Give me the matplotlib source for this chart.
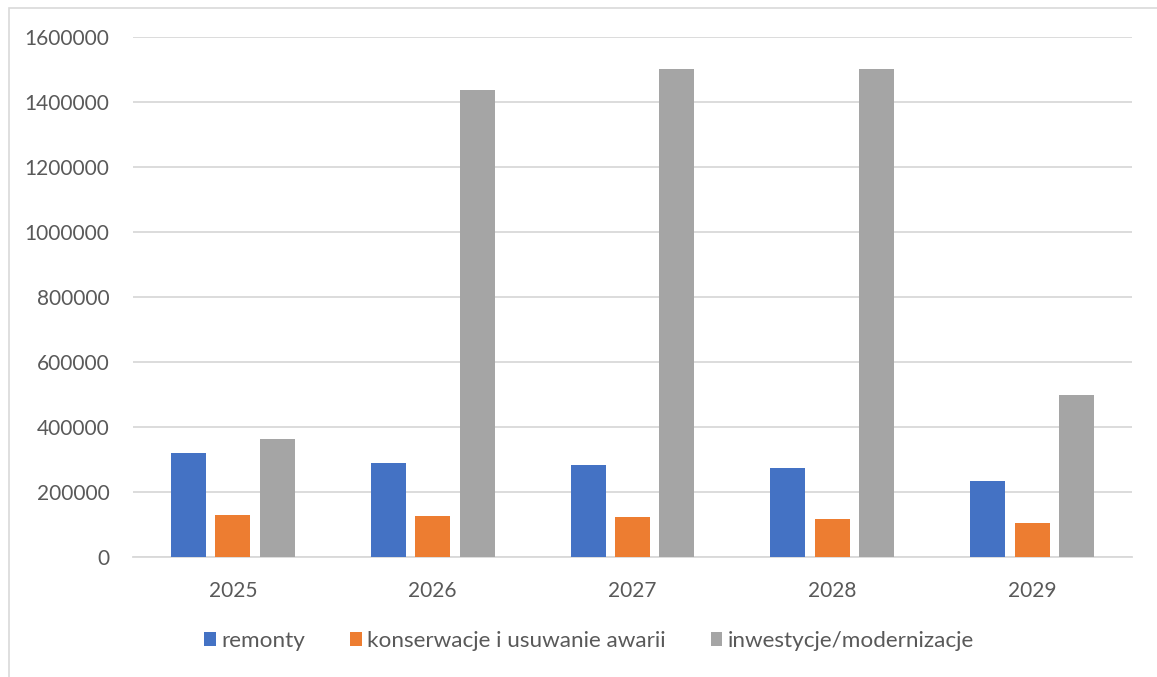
import numpy as np
import matplotlib.pyplot as plt
from matplotlib.patches import Rectangle

plt.rcParams['font.family'] = ['Lato', 'DejaVu Sans']

years = ["2025", "2026", "2027", "2028", "2029"]
remonty = [320000, 290000, 282000, 273000, 233000]
konserwacje = [130000, 127000, 123000, 116000, 106000]
inwestycje = [364000, 1438000, 1500000, 1500000, 500000]

series = [
    ("remonty", remonty, "#4472C4"),
    ("konserwacje i usuwanie awarii", konserwacje, "#ED7D31"),
    ("inwestycje/modernizacje", inwestycje, "#A5A5A5"),
]

W, H = 1157, 677
fig = plt.figure(figsize=(W / 100, H / 100), dpi=100)
ax = fig.add_axes([133 / W, 1 - 557 / H, (1132 - 133) / W, (557 - 37) / H])

x = np.arange(len(years))
width = 0.175
step = 0.2225
for i, (name, vals, color) in enumerate(series):
    ax.bar(x + (i - 1) * step, vals, width, color=color, label=name, zorder=3)

ax.set_xlim(-0.5, len(years) - 0.5)
ax.set_ylim(0, 1600000)
ax.set_yticks(np.arange(0, 1600001, 200000))
ax.set_yticklabels([str(v) for v in range(0, 1600001, 200000)])
ax.set_xticks(x)
ax.set_xticklabels(years)

ax.grid(axis="y", color="#D9D9D9", linewidth=1.3, zorder=0)
for side in ["top", "right", "left"]:
    ax.spines[side].set_visible(False)
ax.spines["bottom"].set_color("#D9D9D9")
ax.spines["bottom"].set_linewidth(1.3)
ax.tick_params(axis="both", length=0, labelsize=15, labelcolor="#595959")
ax.tick_params(axis="y", pad=17)
ax.tick_params(axis="x", pad=17)

fig.legend(
    loc="center",
    bbox_to_anchor=(589 / W, 1 - 641 / H),
    ncol=3,
    frameon=False,
    fontsize=16.2,
    labelcolor="#595959",
    handlelength=0.53,
    handleheight=0.53,
    handletextpad=0.22,
    columnspacing=2.0,
)

# light chart-area border
fig.add_artist(Rectangle((9 / W, -0.1), 1.2, 1.1 - 8 / H,
                         transform=fig.transFigure, fill=False,
                         edgecolor="#D9D9D9", linewidth=1.2))

fig.savefig("out.png", dpi=100, facecolor="white")
